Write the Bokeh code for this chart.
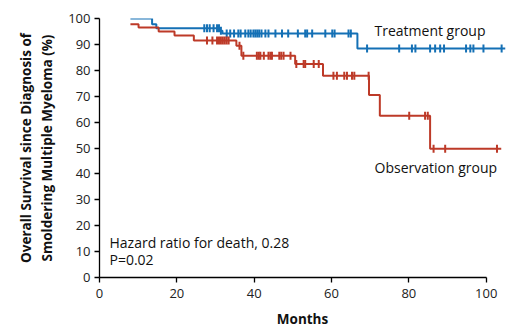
import numpy as np
from bokeh.plotting import figure
from bokeh.models import Label, Range1d, FixedTicker, Title
from bokeh.embed import file_html
from bokeh.resources import INLINE

# Kaplan-Meier step data (months, % survival)
treat_times = [8, 13.6, 14.7, 31.0, 31.8, 66.7, 105]
treat_surv = [100, 97.8, 96.2, 95.3, 94.2, 88.4, 88.4]
obs_times = [8, 10.1, 15.3, 19.4, 24.4, 35.4, 36.7, 50.6, 57.8, 69.7, 72.5, 85.5, 103.9]
obs_surv = [97.8, 96.5, 95.0, 93.4, 91.5, 89.5, 85.6, 82.4, 77.9, 70.5, 62.5, 49.7, 49.7]

# censoring times
treat_cens = [27.1, 27.8, 28.5, 29.5, 30.4, 30.9, 31.4, 32.9, 33.8, 34.8, 35.9, 36.5, 37.7,
              38.5, 39.1, 39.8, 40.3, 40.8, 41.3, 41.9, 42.9, 43.7, 45.5, 47.2, 48.8, 51.3,
              53.2, 53.7, 55.0, 58.4, 60.2, 60.8, 64.4, 65.0, 69.2, 77.5, 80.8, 81.7, 85.5,
              86.8, 88.1, 89.1, 94.8, 95.9, 96.7, 99.3, 104.0]
obs_cens = [27.8, 29.2, 30.4, 30.9, 31.4, 31.9, 32.4, 32.9, 33.4, 36.2, 37.2, 40.7, 41.2,
            41.6, 42.5, 43.7, 44.2, 44.6, 46.5, 47.0, 47.6, 49.4, 50.9, 52.8, 53.2, 55.4,
            56.7, 60.5, 61.4, 63.3, 64.0, 65.3, 65.9, 69.6, 80.1, 84.2, 84.9, 86.4, 89.4, 102.8]

x_ticks = [0, 20, 40, 60, 80, 100]
y_ticks = [0, 10, 20, 30, 40, 50, 60, 70, 80, 90, 100]

BLUE = "#1470b5"
RED = "#bd3a28"
FONT = "Open Sans"


def lookup(times, surv, t):
    idx = np.searchsorted(np.array(times), np.array(t), side="right") - 1
    return [surv[i] for i in idx]


p = figure(width=513, height=336, output_backend="svg", toolbar_location=None,
           x_range=Range1d(0, 105), y_range=Range1d(0, 100),
           min_border_left=99, min_border_right=8, min_border_top=18, min_border_bottom=59)
p.outline_line_color = None
p.grid.visible = False
p.background_fill_color = "white"
p.border_fill_color = "white"

p.step(treat_times, treat_surv, mode="after", line_color=BLUE, line_width=2)
p.step(obs_times, obs_surv, mode="after", line_color=RED, line_width=2)

p.scatter(treat_cens, lookup(treat_times, treat_surv, treat_cens), marker="dash",
          angle=np.pi / 2, size=8, line_color=BLUE, line_width=2)
p.scatter(obs_cens, lookup(obs_times, obs_surv, obs_cens), marker="dash",
          angle=np.pi / 2, size=8, line_color=RED, line_width=2)

for ax in (p.xaxis[0], p.yaxis[0]):
    ax.bounds = (0, 100)
    ax.axis_line_color = "black"
    ax.axis_line_width = 1.3
    ax.major_tick_line_color = "black"
    ax.major_tick_line_width = 1.3
    ax.major_tick_out = 5
    ax.major_tick_in = 0
    ax.minor_tick_line_color = None
    ax.major_label_text_font = FONT
    ax.major_label_text_font_size = "13px"
    ax.major_label_text_color = "#222222"
    ax.axis_label_text_font = FONT
    ax.axis_label_text_font_style = "bold"
    ax.axis_label_text_font_size = "13.5px"
    ax.axis_label_text_color = "#111111"

p.xaxis.ticker = FixedTicker(ticks=x_ticks)
p.yaxis.ticker = FixedTicker(ticks=y_ticks)
p.yaxis.axis_label = "Overall Survival since Diagnosis of\nSmoldering Multiple Myeloma (%)"
p.xaxis.major_label_standoff = 6
p.yaxis.major_label_standoff = 4
p.yaxis.axis_label_standoff = 9

# x-axis title centred under the 0-100 axis line
p.add_layout(Title(text="Months", align="center", offset=-10, text_font=FONT,
                   text_font_style="bold", text_font_size="13.5px",
                   text_color="#111111", standoff=14), "below")

for txt, sx, sy in [("Treatment group", 275, 247), ("Observation group", 275, 110)]:
    p.add_layout(Label(x=sx, y=sy, x_units="screen", y_units="screen", text=txt,
                       text_font=FONT, text_font_size="14px", text_color="#111111",
                       text_baseline="middle"))
for txt, sx, sy in [("Hazard ratio for death, 0.28", 10, 35), ("P=0.02", 10, 18)]:
    p.add_layout(Label(x=sx, y=sy, x_units="screen", y_units="screen", text=txt,
                       text_font=FONT, text_font_size="14px", text_color="#111111",
                       text_baseline="middle"))

open("out.html", "w").write(file_html(p, INLINE))
